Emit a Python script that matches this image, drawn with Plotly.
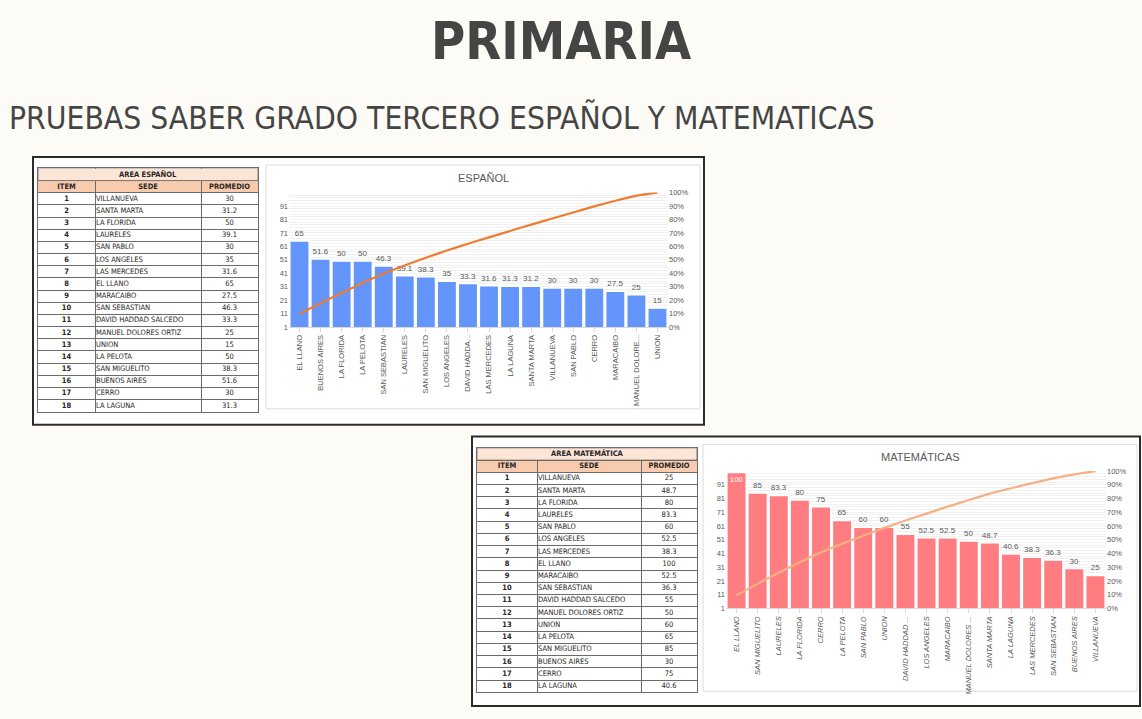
import numpy as np
import plotly.graph_objects as go

# ---------------- data ----------------
ITEMS = list(range(1, 19))
SEDES = ["VILLANUEVA", "SANTA MARTA", "LA FLORIDA", "LAURELES", "SAN PABLO",
         "LOS ANGELES", "LAS MERCEDES", "EL LLANO", "MARACAIBO", "SAN SEBASTIAN",
         "DAVID HADDAD SALCEDO", "MANUEL DOLORES ORTIZ", "UNION", "LA PELOTA",
         "SAN MIGUELITO", "BUENOS AIRES", "CERRO", "LA LAGUNA"]
ESP_PROMEDIO = [30, 31.2, 50, 39.1, 30, 35, 31.6, 65, 27.5, 46.3,
                33.3, 25, 15, 50, 38.3, 51.6, 30, 31.3]
MAT_PROMEDIO = [25, 48.7, 80, 83.3, 60, 52.5, 38.3, 100, 52.5, 36.3,
                55, 50, 60, 65, 85, 30, 75, 40.6]
TABLE_HEADERS = ["ITEM", "SEDE", "PROMEDIO"]

# x tick labels as shown in the charts (sorted order)
ESP_TICK_LABELS = ["EL LLANO", "BUENOS AIRES", "LA FLORIDA", "LA PELOTA", "SAN SEBASTIAN",
                   "LAURELES", "SAN MIGUELITO", "LOS ANGELES", "DAVID HADDA...",
                   "LAS MERCEDES", "LA LAGUNA", "SANTA MARTA", "VILLANUEVA", "SAN PABLO",
                   "CERRO", "MARACAIBO", "MANUEL DOLORE...", "UNION"]
MAT_TICK_LABELS = ["EL LLANO", "SAN MIGUELITO", "LAURELES", "LA FLORIDA", "CERRO",
                   "LA PELOTA", "SAN PABLO", "UNION", "DAVID HADDAD ...", "LOS ANGELES",
                   "MARACAIBO", "MANUEL DOLORES ...", "SANTA MARTA", "LA LAGUNA",
                   "LAS MERCEDES", "SAN SEBASTIAN", "BUENOS AIRES", "VILLANUEVA"]
Y_TICKS = [1, 11, 21, 31, 41, 51, 61, 71, 81, 91]

W, H = 1142, 719
def px(x): return x / W
def py(y): return 1 - y / H

BG = "#fcfbf6"
GRAY = "#595959"
FONT = "Liberation Sans"
COND = "DejaVu Sans Condensed, Liberation Sans"
TITLE_FONT = "DejaVu Sans Condensed, Liberation Sans"
TXT = "#262626"
LINE_GRAY = "#6b6b6b"

def pareto(values):
    order = sorted(range(len(values)), key=lambda i: -values[i])  # stable
    cats = [SEDES[i] for i in order]
    vals = [values[i] for i in order]
    cum = np.cumsum(vals) / np.sum(vals)
    return cats, vals, cum

fig = go.Figure()

# ---------------- tables (drawn on their own cartesian axes) ----------------
def add_table(values, colb, xa, ya):
    rows_y = [r + 2.5 for r in range(len(ITEMS))]
    tf = dict(family=COND, size=7.5, color=TXT)
    fig.add_trace(go.Scatter(
        x=[(colb[0] + colb[1]) / 2, (colb[1] + colb[2]) / 2, (colb[2] + colb[3]) / 2],
        y=[1.5, 1.5, 1.5], mode="text", text=["<b>%s</b>" % h for h in TABLE_HEADERS],
        textposition="middle center", textfont=tf, xaxis=xa, yaxis=ya,
        showlegend=False, hoverinfo="skip"))
    fig.add_trace(go.Scatter(
        x=[(colb[0] + colb[1]) / 2] * len(ITEMS), y=rows_y, mode="text",
        text=["<b>%d</b>" % i for i in ITEMS], textposition="middle center",
        textfont=tf, xaxis=xa, yaxis=ya, showlegend=False, hoverinfo="skip"))
    fig.add_trace(go.Scatter(
        x=[colb[1] + 1] * len(ITEMS), y=rows_y, mode="text",
        text=SEDES, textposition="middle right",
        textfont=tf, xaxis=xa, yaxis=ya, showlegend=False, hoverinfo="skip"))
    fig.add_trace(go.Scatter(
        x=[(colb[2] + colb[3]) / 2] * len(ITEMS), y=rows_y, mode="text",
        text=[("%g" % v) for v in values], textposition="middle center",
        textfont=tf, xaxis=xa, yaxis=ya, showlegend=False, hoverinfo="skip"))

def table_axes(x0, x1, ytop, ybot, colb, xanchor, yanchor):
    xa = dict(domain=[px(x0), px(x1)], anchor=yanchor, range=[colb[0], colb[-1]],
              tickmode="array", tickvals=colb, showticklabels=False, ticks="",
              showgrid=True, gridcolor=LINE_GRAY, gridwidth=0.8, zeroline=False,
              showline=True, mirror=True, linecolor=LINE_GRAY, linewidth=0.8, fixedrange=True)
    ya = dict(domain=[py(ybot), py(ytop)], anchor=xanchor, range=[20, 0],
              tickmode="array", tickvals=list(range(21)), showticklabels=False, ticks="",
              showgrid=True, gridcolor=LINE_GRAY, gridwidth=0.8, zeroline=False,
              showline=True, mirror=True, linecolor=LINE_GRAY, linewidth=0.8, fixedrange=True)
    return xa, ya

COLB1 = [0, 57, 163, 220]
COLB2 = [0, 60, 164, 220]
add_table(ESP_PROMEDIO, COLB1, "x5", "y5")
add_table(MAT_PROMEDIO, COLB2, "x6", "y6")

# ---------------- pareto charts ----------------
def add_chart(values, bar_color, line_color, xa, ya, ya2):
    cats, vals, cum = pareto(values)
    tpos = ["inside" if v > 95 else "outside" for v in vals]
    fig.add_trace(go.Bar(
        x=cats, y=vals, xaxis=xa, yaxis=ya,
        marker=dict(color=bar_color, line=dict(color="white", width=1.5)),
        text=[("%g" % v) for v in vals], textposition=tpos, textangle=0,
        insidetextanchor="end",
        outsidetextfont=dict(family=FONT, size=8, color=GRAY),
        insidetextfont=dict(family=FONT, size=8, color="white"),
        cliponaxis=False, showlegend=False, hoverinfo="skip"))
    fig.add_trace(go.Scatter(
        x=cats, y=cum, xaxis=xa, yaxis=ya2, mode="lines",
        line=dict(color=line_color, width=2.2, shape="spline", smoothing=0.6),
        showlegend=False, hoverinfo="skip"))
    return cats

cats1 = add_chart(ESP_PROMEDIO, "#6495fa", "#ed7d31", "x", "y", "y2")
cats2 = add_chart(MAT_PROMEDIO, "#ff7c80", "#f4b183", "x3", "y3", "y4")

def xaxis_cfg(x0, x1, anchor, cats, labels, italic):
    return dict(domain=[px(x0), px(x1)], anchor=anchor, type="category",
                tickmode="array", tickvals=cats, ticktext=labels, tickangle=-90,
                tickfont=dict(family=FONT, size=7.5, color=GRAY,
                              style="italic" if italic else "normal"),
                showline=True, linecolor="#d9d9d9", linewidth=1,
                ticks="outside", ticklen=4, tickcolor="#d9d9d9",
                showgrid=False, zeroline=False, range=[-0.5, 17.5], fixedrange=True)

def yaxis_cfg(ytop, ybot, anchor):
    return dict(domain=[py(ybot), py(ytop)], anchor=anchor, range=[1, 101],
                tickmode="array", tickvals=Y_TICKS,
                tickfont=dict(family=FONT, size=7.5, color=GRAY),
                showgrid=False, zeroline=False, showline=False, ticks="",
                minor=dict(dtick=2, tick0=1, showgrid=True, gridcolor="#f1f1f1", gridwidth=1),
                fixedrange=True)

def yaxis2_cfg(over, anchor):
    return dict(overlaying=over, anchor=anchor, side="right", range=[0, 1],
                tickformat=".0%", dtick=0.1, tick0=0,
                tickfont=dict(family=FONT, size=7.5, color=GRAY),
                showgrid=False, zeroline=False, showline=False, fixedrange=True)

shapes = [
    # panel 1
    dict(type="rect", xref="paper", yref="paper", x0=px(33), x1=px(704), y0=py(426), y1=py(155),
         fillcolor="white", line=dict(color="#2b2b2b", width=2), layer="below"),
    dict(type="rect", xref="paper", yref="paper", x0=px(266), x1=px(700), y0=py(410), y1=py(163),
         fillcolor="white", line=dict(color="#dcdcdc", width=1), layer="below"),
    # panel 2
    dict(type="rect", xref="paper", yref="paper", x0=px(472), x1=px(1140), y0=py(711), y1=py(438),
         fillcolor="white", line=dict(color="#2b2b2b", width=2), layer="below"),
    dict(type="rect", xref="paper", yref="paper", x0=px(703), x1=px(1137), y0=py(696), y1=py(446),
         fillcolor="white", line=dict(color="#dcdcdc", width=1), layer="below"),
    # table fills
    dict(type="rect", xref="x5", yref="y5", x0=COLB1[0], x1=COLB1[-1], y0=1, y1=2,
         fillcolor="#f8cbad", line=dict(width=0), layer="below"),
    dict(type="rect", xref="x5", yref="y5", x0=COLB1[0], x1=COLB1[-1], y0=0, y1=1,
         fillcolor="#fce4d6", line=dict(color=LINE_GRAY, width=0.8), layer="above"),
    dict(type="rect", xref="x6", yref="y6", x0=COLB2[0], x1=COLB2[-1], y0=1, y1=2,
         fillcolor="#f8cbad", line=dict(width=0), layer="below"),
    dict(type="rect", xref="x6", yref="y6", x0=COLB2[0], x1=COLB2[-1], y0=0, y1=1,
         fillcolor="#fce4d6", line=dict(color=LINE_GRAY, width=0.8), layer="above"),
]

annotations = [
    dict(text="<b>PRIMARIA</b>", x=px(561), y=py(37), xref="paper", yref="paper",
         xanchor="center", yanchor="middle", showarrow=False,
         font=dict(family=TITLE_FONT, size=52, color="#454545")),
    dict(text="PRUEBAS SABER GRADO TERCERO ESPAÑOL Y MATEMATICAS", x=px(7), y=py(115),
         xref="paper", yref="paper", xanchor="left", yanchor="middle", showarrow=False,
         font=dict(family=TITLE_FONT, size=31.5, color="#454545")),
    dict(text="<b>AREA ESPAÑOL</b>", x=(COLB1[0] + COLB1[-1]) / 2, y=0.5, xref="x5", yref="y5",
         xanchor="center", yanchor="middle", showarrow=False,
         font=dict(family=COND, size=7.5, color=TXT)),
    dict(text="<b>AREA MATEMÁTICA</b>", x=(COLB2[0] + COLB2[-1]) / 2, y=0.5, xref="x6", yref="y6",
         xanchor="center", yanchor="middle", showarrow=False,
         font=dict(family=COND, size=7.5, color=TXT)),
    dict(text="ESPAÑOL", x=px(483), y=py(176), xref="paper", yref="paper",
         xanchor="center", yanchor="middle", showarrow=False,
         font=dict(family=FONT, size=11, color=GRAY)),
    dict(text="MATEMÁTICAS", x=px(920), y=py(459), xref="paper", yref="paper",
         xanchor="center", yanchor="middle", showarrow=False,
         font=dict(family=FONT, size=11, color=GRAY)),
]

x5, y5 = table_axes(38, 258, 166.5, 413, COLB1, "x5", "y5")
x6, y6 = table_axes(477, 697, 449.5, 697, COLB2, "x6", "y6")

fig.update_layout(
    width=W, height=H, margin=dict(l=0, r=0, t=0, b=0),
    paper_bgcolor=BG, plot_bgcolor="white",
    bargap=0.08, showlegend=False,
    xaxis=xaxis_cfg(289, 668, "y", cats1, ESP_TICK_LABELS, False),
    yaxis=yaxis_cfg(191, 327, "x"),
    yaxis2=yaxis2_cfg("y", "x"),
    xaxis3=xaxis_cfg(726, 1106, "y3", cats2, MAT_TICK_LABELS, True),
    yaxis3=yaxis_cfg(473, 612, "x3"),
    yaxis4=yaxis2_cfg("y3", "x3"),
    xaxis5=x5, yaxis5=y5, xaxis6=x6, yaxis6=y6,
    shapes=shapes, annotations=annotations,
)

fig.write_html("out.html", config={"displayModeBar": False},
               post_script="document.body.style.margin='0';document.body.style.overflow='hidden';")
